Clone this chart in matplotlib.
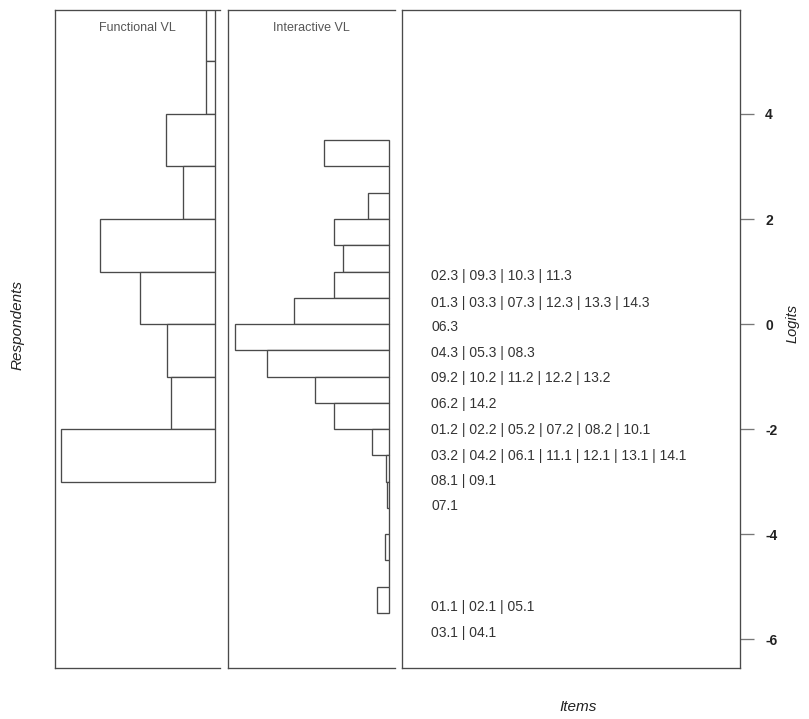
import matplotlib
matplotlib.use("Agg")
import matplotlib.pyplot as plt
from matplotlib.transforms import blended_transform_factory

plt.rcParams['font.family'] = ['Liberation Sans', 'DejaVu Sans']

# ---- data ----
# Functional VL respondents: bins of 1 logit (lower edge), frequencies
func_bin_lo = [5, 4, 3, 2, 1, 0, -1, -2, -3]
func_freq = [1.0, 1.0, 5.4, 3.5, 12.8, 8.3, 5.3, 4.9, 17.1]

# Interactive VL respondents: bins of 0.5 logit (lower edge), frequencies
inter_bin_lo = [3.0, 2.5, 2.0, 1.5, 1.0, 0.5, 0.0, -0.5, -1.0, -1.5, -2.0,
                -2.5, -3.0, -3.5, -4.0, -4.5, -5.0, -5.5]
inter_freq = [17.1, 0, 5.5, 14.5, 12.1, 14.5, 25.0, 40.5, 32.1, 19.5, 14.5,
              4.5, 0.9, 0.6, 0, 1.0, 0, 3.2]

# Item thresholds (logit positions) and labels
item_logits = [0.91, 0.41, -0.06, -0.55, -1.03, -1.52, -2.02, -2.51, -2.99,
               -3.47, -5.39, -5.88]
item_labels = [
    "02.3 | 09.3 | 10.3 | 11.3",
    "01.3 | 03.3 | 07.3 | 12.3 | 13.3 | 14.3",
    "06.3",
    "04.3 | 05.3 | 08.3",
    "09.2 | 10.2 | 11.2 | 12.2 | 13.2",
    "06.2 | 14.2",
    "01.2 | 02.2 | 05.2 | 07.2 | 08.2 | 10.1",
    "03.2 | 04.2 | 06.1 | 11.1 | 12.1 | 13.1 | 14.1",
    "08.1 | 09.1",
    "07.1",
    "01.1 | 02.1 | 05.1",
    "03.1 | 04.1",
]
logit_ticks = [4, 2, 0, -2, -4, -6]

panel_titles = ["Functional VL", "Interactive VL"]

# ---- figure ----
W, H = 809, 719
fig = plt.figure(figsize=(W / 100, H / 100), dpi=100)

def fx(px):
    return px / W

def fy(py):
    return 1 - py / H

top_px, bot_px = 10, 668
ylim = (-6.55, 5.98)
line_col = '#4a4a4a'
lw = 0.95

ax_f = fig.add_axes([fx(55), fy(bot_px), fx(220 - 55), (bot_px - top_px) / H])
ax_i = fig.add_axes([fx(228), fy(bot_px), fx(395 - 228), (bot_px - top_px) / H])
ax_t = fig.add_axes([fx(402), fy(bot_px), fx(740 - 402), (bot_px - top_px) / H])

def hist_panel(ax, lo, freq, bw, xlim, title):
    ax.barh([l + bw / 2 for l in lo], freq, height=bw, left=0,
            facecolor='white', edgecolor=line_col, linewidth=lw)
    ax.set_xlim(*xlim)
    ax.set_ylim(*ylim)
    ax.set_xticks([])
    ax.set_yticks([])
    ax.spines['right'].set_visible(False)
    for s in ['left', 'top', 'bottom']:
        ax.spines[s].set_color(line_col)
        ax.spines[s].set_linewidth(lw)
    ax.text(0.5, 0.973, title, transform=ax.transAxes, ha='center',
            va='center', fontsize=9, color='#555555')

hist_panel(ax_f, func_bin_lo, func_freq, 1.0, (17.78, -0.56), panel_titles[0])
hist_panel(ax_i, inter_bin_lo, inter_freq, 0.5, (42.37, -1.58), panel_titles[1])

# Items panel
ax_t.set_ylim(*ylim)
ax_t.set_xlim(0, 1)
ax_t.set_xticks([])
for s in ax_t.spines.values():
    s.set_color(line_col)
    s.set_linewidth(lw)
ax_t.yaxis.tick_right()
ax_t.set_yticks(logit_ticks)
ax_t.set_yticklabels([str(t) for t in logit_ticks], fontweight='bold',
                     fontsize=10, color='#222222')
ax_t.tick_params(axis='y', direction='out', length=10, width=lw,
                 color='#777777', pad=8)
ax_t.tick_params(axis='y', left=False)

tr = blended_transform_factory(ax_t.transAxes, ax_t.transData)
for yv, lab in zip(item_logits, item_labels):
    ax_t.text(0.0858, yv, lab, transform=tr, ha='left', va='center',
              fontsize=10, color='#333333')

# Axis titles
fig.text(fx(18), fy(325), "Respondents", rotation=90, ha='center', va='center',
         fontsize=11, style='italic', color='#222222')
fig.text(fx(793), fy(323), "Logits", rotation=90, ha='center', va='center',
         fontsize=10.5, style='italic', color='#222222')
fig.text(fx(578), fy(707), "Items", ha='center', va='center',
         fontsize=11, style='italic', color='#222222')

fig.savefig("out.png", dpi=100, facecolor='white')
